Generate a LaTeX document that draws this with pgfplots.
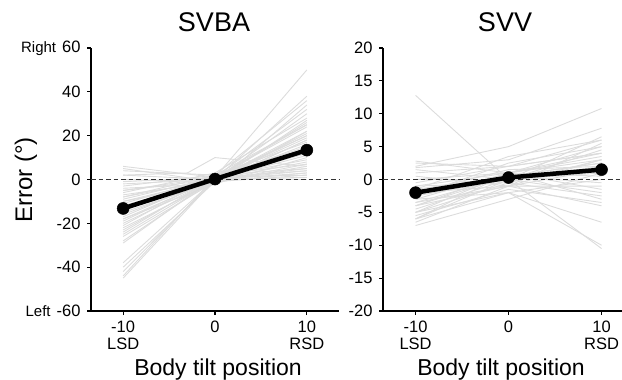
\documentclass[border=0pt]{standalone}
\usepackage{fontspec}
\setmainfont{Liberation Sans}
\usepackage{pgfplots}
\pgfplotsset{compat=1.18}
\definecolor{gl}{RGB}{220,220,220}
\newcommand{\tfont}{\fontsize{16.5bp}{17bp}\selectfont}
\pgfplotsset{
  common/.style={
    scale only axis,
    height=263bp,
    axis x line*=bottom,
    axis y line*=left,
    axis line style={line width=1.3bp,black},
    tick align=outside,
    major tick length=4bp,
    tick style={line width=1.1bp,black},
    xtick={-10,0,10},
    xticklabels={{-10\\LSD},{0},{10\\RSD}},
    xticklabel style={font=\tfont,align=center,anchor=north,yshift=-2bp},
    yticklabel style={font=\tfont,xshift=-3bp},
    clip=false,
  },
  gline/.style={color=gl,line width=0.9bp},
  zline/.style={color=black!80,line width=1.5bp,dash pattern=on 4.5bp off 3bp},
  mline/.style={black,line width=4.5bp,mark=*,mark size=6bp,mark options={solid,line width=0.5bp}},
}
\begin{document}
\begin{tikzpicture}
\path[use as bounding box] (0,0) rectangle (622bp,380bp);
% ---------------- SVBA ----------------
\begin{axis}[common,
  at={(91bp,69bp)}, anchor=south west,
  width=248bp,
  xmin=-13.5, xmax=13.5,
  ymin=-60, ymax=60,
  ytick={-60,-40,-20,0,20,40,60},
  yticklabels={{{\fontsize{15bp}{15bp}\selectfont Left}\hspace{6bp}-60},-40,-20,0,20,40,{{\fontsize{15bp}{15bp}\selectfont Right}\hspace{6bp}60}},
]
\addplot[gline] coordinates {(-10,6)(0,1)(10,2)};
\addplot[gline] coordinates {(-10,5)(0,-1)(10,3)};
\addplot[gline] coordinates {(-10,4)(0,2)(10,5)};
\addplot[gline] coordinates {(-10,2)(-3,3)(0,10)(10,6)};
\addplot[gline] coordinates {(-10,2)(0,0)(10,4)};
\addplot[gline] coordinates {(-10,0)(0,-1)(10,7)};
\addplot[gline] coordinates {(-10,-1)(0,1)(10,50)};
\addplot[gline] coordinates {(-10,-2)(0,0)(10,38)};
\addplot[gline] coordinates {(-10,-3)(0,2)(10,36)};
\addplot[gline] coordinates {(-10,-4)(0,-2)(10,34)};
\addplot[gline] coordinates {(-10,-5)(0,1)(10,32)};
\addplot[gline] coordinates {(-10,-5)(0,0)(10,30)};
\addplot[gline] coordinates {(-10,-6)(0,3)(10,28)};
\addplot[gline] coordinates {(-10,-7)(0,-1)(10,27)};
\addplot[gline] coordinates {(-10,-8)(0,0)(10,26)};
\addplot[gline] coordinates {(-10,-8)(0,2)(10,25)};
\addplot[gline] coordinates {(-10,-9)(0,1)(10,24)};
\addplot[gline] coordinates {(-10,-10)(0,-2)(10,22)};
\addplot[gline] coordinates {(-10,-10)(0,0)(10,21)};
\addplot[gline] coordinates {(-10,-11)(0,1)(10,20)};
\addplot[gline] coordinates {(-10,-12)(0,0)(10,19)};
\addplot[gline] coordinates {(-10,-12)(0,-1)(10,18)};
\addplot[gline] coordinates {(-10,-13)(0,2)(10,17)};
\addplot[gline] coordinates {(-10,-14)(0,0)(10,16)};
\addplot[gline] coordinates {(-10,-14)(0,1)(10,15)};
\addplot[gline] coordinates {(-10,-15)(0,-1)(10,14)};
\addplot[gline] coordinates {(-10,-16)(0,0)(10,13)};
\addplot[gline] coordinates {(-10,-17)(0,1)(10,12)};
\addplot[gline] coordinates {(-10,-18)(0,0)(10,11)};
\addplot[gline] coordinates {(-10,-18)(0,-2)(10,10)};
\addplot[gline] coordinates {(-10,-19)(0,1)(10,9)};
\addplot[gline] coordinates {(-10,-20)(0,0)(10,8)};
\addplot[gline] coordinates {(-10,-21)(0,2)(10,7)};
\addplot[gline] coordinates {(-10,-22)(0,-1)(10,6)};
\addplot[gline] coordinates {(-10,-23)(0,0)(10,5)};
\addplot[gline] coordinates {(-10,-24)(0,1)(10,4)};
\addplot[gline] coordinates {(-10,-25)(0,0)(10,3)};
\addplot[gline] coordinates {(-10,-26)(0,-1)(10,2)};
\addplot[gline] coordinates {(-10,-28)(0,0)(10,1)};
\addplot[gline] coordinates {(-10,-29)(0,1)(10,0)};
\addplot[gline] coordinates {(-10,-38)(0,0)(10,12)};
\addplot[gline] coordinates {(-10,-40)(0,-1)(10,18)};
\addplot[gline] coordinates {(-10,-42)(0,0)(10,20)};
\addplot[gline] coordinates {(-10,-44)(0,1)(10,25)};
\addplot[gline] coordinates {(-10,-45)(0,0)(10,22)};
\addplot[zline] coordinates {(-13.5,0)(13.5,0)};
\addplot[mline] coordinates {(-10,-13.2)(0,0.2)(10,13.4)};
\end{axis}
% ---------------- SVV ----------------
\begin{axis}[common,
  at={(383bp,69bp)}, anchor=south west,
  width=239bp,
  xmin=-13.5, xmax=12.2,
  ymin=-20, ymax=20,
  ytick={-20,-15,-10,-5,0,5,10,15,20},
  yticklabels={-20,-15,-10,-5,0,5,10,15,20},
]
\addplot[gline] coordinates {(-10,12.8)(0,0)(10,-10.5)};
\addplot[gline] coordinates {(-10,2.8)(0,1)(10,3)};
\addplot[gline] coordinates {(-10,2.5)(0,2)(10,4)};
\addplot[gline] coordinates {(-10,2)(0,5)(10,10.8)};
\addplot[gline] coordinates {(-10,1.8)(0,3)(10,7.8)};
\addplot[gline] coordinates {(-10,1.5)(0,0)(10,6.5)};
\addplot[gline] coordinates {(-10,1)(0,2)(10,6)};
\addplot[gline] coordinates {(-10,0.5)(0,-1)(10,5.5)};
\addplot[gline] coordinates {(-10,0)(0,1)(10,5)};
\addplot[gline] coordinates {(-10,0)(0,0)(10,4.5)};
\addplot[gline] coordinates {(-10,-0.5)(0,2)(10,4)};
\addplot[gline] coordinates {(-10,-1)(0,1)(10,3.5)};
\addplot[gline] coordinates {(-10,-1)(0,-0.5)(10,3)};
\addplot[gline] coordinates {(-10,-1.5)(0,0.5)(10,2.5)};
\addplot[gline] coordinates {(-10,-2)(0,1.5)(10,2)};
\addplot[gline] coordinates {(-10,-2)(0,-1)(10,1.5)};
\addplot[gline] coordinates {(-10,-2.5)(0,0)(10,1)};
\addplot[gline] coordinates {(-10,-3)(0,1)(10,0.5)};
\addplot[gline] coordinates {(-10,-3)(0,-2)(10,0)};
\addplot[gline] coordinates {(-10,-3.5)(0,0.5)(10,-0.5)};
\addplot[gline] coordinates {(-10,-4)(0,-1)(10,-1)};
\addplot[gline] coordinates {(-10,-4)(0,1)(10,-1.5)};
\addplot[gline] coordinates {(-10,-4.5)(0,0)(10,-2)};
\addplot[gline] coordinates {(-10,-5)(0,-0.5)(10,-2.5)};
\addplot[gline] coordinates {(-10,-5)(0,1)(10,-3)};
\addplot[gline] coordinates {(-10,-5.5)(0,-1.5)(10,-3.5)};
\addplot[gline] coordinates {(-10,-6)(0,0)(10,2)};
\addplot[gline] coordinates {(-10,-6)(0,-2)(10,-6.5)};
\addplot[gline] coordinates {(-10,-6.5)(0,-1)(10,3)};
\addplot[gline] coordinates {(-10,-7)(0,-3)(10,1)};
\addplot[gline] coordinates {(-10,-5)(0,-2)(10,-10)};
\addplot[gline] coordinates {(-10,-3.5)(0,-1)(10,-4)};
\addplot[gline] coordinates {(-10,-2.5)(0,2.5)(10,5)};
\addplot[gline] coordinates {(-10,-1.5)(0,3.5)(10,6)};
\addplot[gline] coordinates {(-10,-4)(0,0.5)(10,2.5)};
\addplot[gline] coordinates {(-10,-6)(0,1)(10,4)};
\addplot[zline] coordinates {(-13.5,0)(12.2,0)};
\addplot[mline] coordinates {(-10,-2)(0,0.3)(10,1.5)};
\end{axis}
% ---------------- texts ----------------
\node[anchor=base,font=\fontsize{27bp}{27bp}\selectfont] at (214bp,348bp) {SVBA};
\node[anchor=base,font=\fontsize{27bp}{27bp}\selectfont] at (505bp,348bp) {SVV};
\node[anchor=base,font=\fontsize{23bp}{23bp}\selectfont] at (218bp,5bp) {Body tilt position};
\node[anchor=base,font=\fontsize{23bp}{23bp}\selectfont] at (501bp,5bp) {Body tilt position};
\node[anchor=base,rotate=90,font=\fontsize{24bp}{24bp}\selectfont] at (32bp,200bp) {Error (°)};
\end{tikzpicture}
\end{document}
